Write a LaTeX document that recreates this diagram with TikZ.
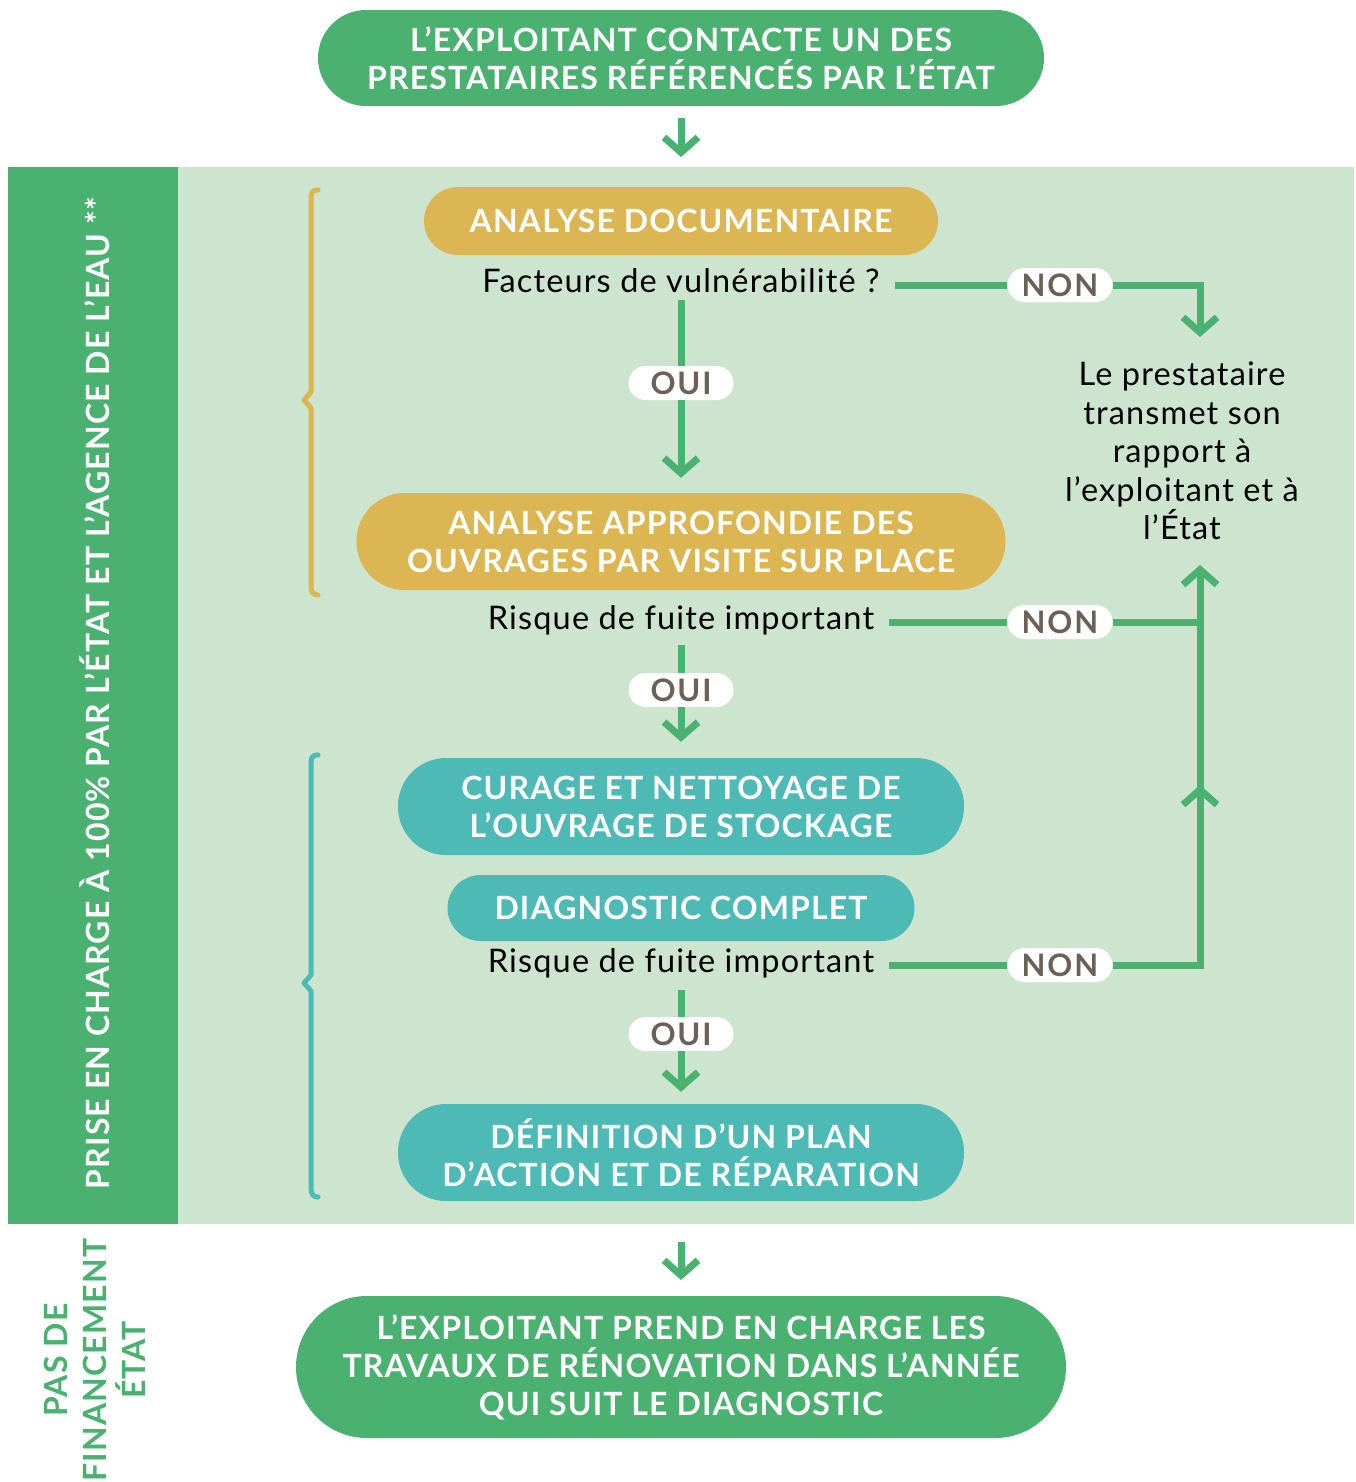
\documentclass[tikz,border=0pt]{standalone}
\usepackage{fontspec}
\setmainfont{Lato}
\newfontfamily\hfam[LetterSpace=3.5]{Lato}
\newfontfamily\bfam[LetterSpace=3.5]{Lato}
\newfontfamily\pfam[LetterSpace=6]{Lato}
\usetikzlibrary{arrows.meta}
\definecolor{dgreen}{HTML}{4AB170}
\definecolor{lgreen}{HTML}{CDE5CF}
\definecolor{gold}{HTML}{DBB653}
\definecolor{tealb}{HTML}{4DBAB5}
\definecolor{graytx}{HTML}{6B6157}
\begin{document}
\begin{tikzpicture}[x=1pt,y=-1pt,
  hfont/.style={font=\hfam\fontsize{32}{38}\selectfont\bfseries},
  bfont/.style={font=\bfam\fontsize{32.5}{38.5}\selectfont},
  box/.style={hfont,text=white,align=center,inner sep=0pt},
  pill/.style={fill=white,rounded corners=17pt,minimum width=105pt,minimum height=34pt,inner sep=0pt,text=graytx,font=\pfam\fontsize{31}{30}\selectfont\bfseries},
  qtext/.style={bfont,text=black,inner sep=8pt},
  flow/.style={line width=7pt,dgreen},
  arr/.style={flow,-{Straight Barb[length=15pt,width=34pt]}},
  brace/.style={line width=5pt,line cap=round,line join=round}
]
\useasboundingbox (0,0) rectangle (1356,1482);
\fill[white] (0,0) rectangle (1356,1482);
\fill[lgreen] (8,167) rectangle (1354,1224);
\fill[dgreen] (8,167) rectangle (178,1224);

% side texts
\node[hfont,text=white,rotate=90] (side) at (95,693) {PRISE EN CHARGE À 100\% PAR L’ÉTAT ET L’AGENCE DE L’EAU **};
\node[text=dgreen,rotate=90,align=center,font=\hfam\fontsize{32}{39}\selectfont\bfseries] (nofund) at (95,1360) {PAS DE\\FINANCEMENT\\ÉTAT};

% boxes
\node[box,fill=dgreen,minimum width=726pt,minimum height=96pt,rounded corners=48pt] (top) at (681,58) {L’EXPLOITANT CONTACTE UN DES\\PRESTATAIRES RÉFÉRENCÉS PAR L’ÉTAT};
\node[box,fill=gold,minimum width=514pt,minimum height=68pt,rounded corners=34pt] (b1) at (681,221) {ANALYSE DOCUMENTAIRE};
\node[qtext] (q1) at (681,281) {Facteurs de vulnérabilité ?};
\node[box,fill=gold,minimum width=649pt,minimum height=97pt,rounded corners=48pt] (b2) at (681,541.5) {ANALYSE APPROFONDIE DES\\OUVRAGES PAR VISITE SUR PLACE};
\node[qtext] (q2) at (681,620) {Risque de fuite important};
\node[box,fill=tealb,minimum width=566pt,minimum height=97pt,rounded corners=48pt] (b3) at (681,806.5) {CURAGE ET NETTOYAGE DE\\L’OUVRAGE DE STOCKAGE};
\node[box,fill=tealb,minimum width=467pt,minimum height=66pt,rounded corners=33pt] (b4) at (681,908) {DIAGNOSTIC COMPLET};
\node[qtext] (q3) at (681,963) {Risque de fuite important};
\node[box,fill=tealb,minimum width=566pt,minimum height=97pt,rounded corners=48pt] (b5) at (681,1152.5) {DÉFINITION D’UN PLAN\\D’ACTION ET DE RÉPARATION};
\node[box,fill=dgreen,minimum width=770pt,minimum height=142pt,rounded corners=71pt] (bot) at (681,1367) {L’EXPLOITANT PREND EN CHARGE LES\\TRAVAUX DE RÉNOVATION DANS L’ANNÉE\\QUI SUIT LE DIAGNOSTIC};

\node[bfont,align=center,text=black] (rt) at (1182,451) {Le prestataire\\transmet son\\rapport à\\l’exploitant et à\\l’État};

% pills
\node[pill] (n1) at (1060,285) {NON};
\node[pill] (n2) at (1060,622) {NON};
\node[pill] (n3) at (1060,965) {NON};
\node[pill] (o1) at (681,383) {OUI};
\node[pill] (o2) at (681,690) {OUI};
\node[pill] (o3) at (681,1034) {OUI};

% coordinates
\coordinate (tA) at (1200,337);
\coordinate (tB) at (1200,565);
\coordinate (jm) at (1200,785);
\coordinate (jm2) at (1200,800);
\coordinate (a1s) at (681,118);
\coordinate (a1e) at (681,157);
\coordinate (a2s) at (681,1242);
\coordinate (a2e) at (681,1280);

% connectors
\draw[arr] (a1s) -- (a1e);
\draw[arr] (a2s) -- (a2e);
\draw[flow] (681,300) -- (o1.north);
\draw[arr,shorten >=15pt] (o1.south) -- (b2.north);
\draw[flow] (681,645) -- (o2.north);
\draw[arr,shorten >=16pt] (o2.south) -- (b3.north);
\draw[flow] (681,990) -- (o3.north);
\draw[arr,shorten >=12pt] (o3.south) -- (b5.north);

\draw[flow] ([xshift=7pt]q1.east|-n1.west) -- (n1.west);
\draw[arr] (n1.east) -| (tA);
\draw[flow] ([xshift=7pt]q2.east|-n2.west) -- (n2.west);
\draw[flow] (n2.east) -- (tA|-n2.east);
\draw[flow] ([xshift=7pt]q3.east|-n3.west) -- (n3.west);
\draw[arr] (n3.east) -| (jm);
\draw[arr] (jm2) -- (tB);

% braces
\draw[brace,gold] (318,190) .. controls (311,190) and (311,194) .. (311,200)
  -- (311,392) -- (304,400) -- (311,408) -- (311,586)
  .. controls (311,592) and (313,595) .. (318,595);
\draw[brace,tealb] (318,755) .. controls (311,755) and (311,759) .. (311,765)
  -- (311,975) -- (304,983) -- (311,991) -- (311,1188)
  .. controls (311,1194) and (313,1197) .. (318,1197);
\end{tikzpicture}
\end{document}
